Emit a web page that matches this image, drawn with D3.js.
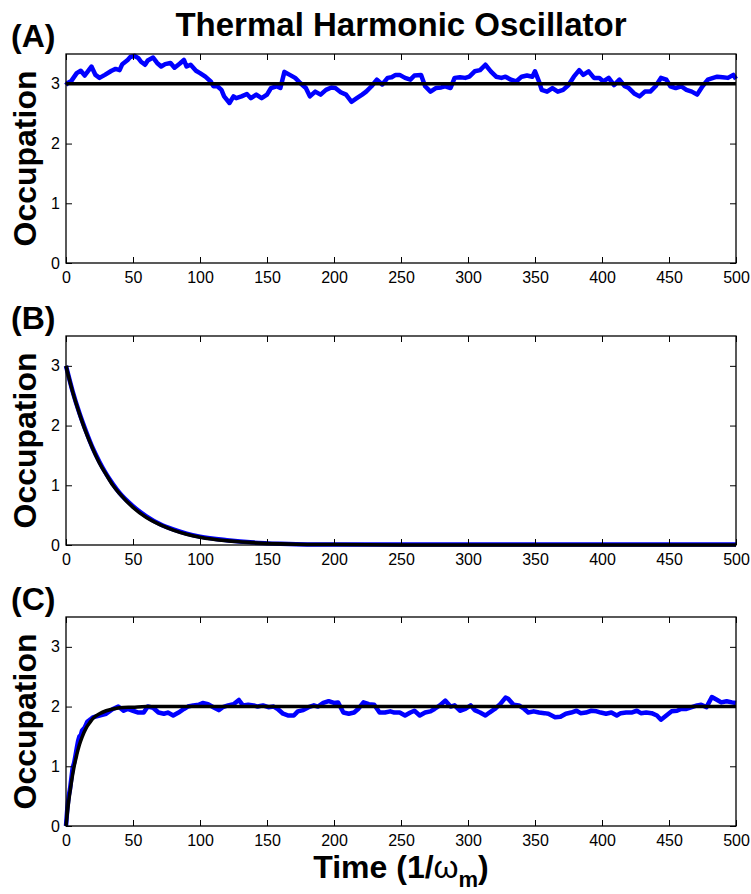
<!DOCTYPE html>
<html>
<head>
<meta charset="utf-8">
<script src="https://cdn.jsdelivr.net/npm/d3@7"></script>
<style>
  body { margin: 0; background: #fff; }
  text { font-family: "Liberation Sans", Arial, Helvetica, sans-serif; }
</style>
</head>
<body>
<div id="chart"></div>
<script>
// Data

// (A) thermal state, stays at n = 3
var timeA = [0, 1, 4, 8, 11, 14, 17, 19, 22, 25, 29, 34, 37, 40, 42, 46, 48, 51, 54, 56, 59, 61, 65, 68, 71, 74, 78, 81, 85, 88, 90, 93, 97, 100,
  104, 108, 110, 113, 116, 118, 122, 125, 127, 131, 135, 138, 142, 146, 150, 153, 157, 160, 163, 167, 171, 175, 179, 182, 186, 190, 194, 198,
  201, 205, 209, 213, 217, 221, 224, 228, 232, 236, 240, 243, 246, 249, 253, 257, 260, 265, 268, 272, 276, 280, 283, 287, 290, 294, 298, 301,
  305, 309, 313, 317, 321, 325, 328, 332, 336, 340, 344, 348, 350, 353, 355, 359, 363, 367, 371, 375, 379, 383, 386, 390, 394, 398, 401, 405,
  409, 413, 417, 420, 424, 428, 432, 436, 440, 444, 448, 451, 455, 459, 463, 467, 471, 475, 479, 483, 486, 490, 494, 498, 500];
var occupationA = [2.98, 3.01, 3.05, 3.18, 3.22, 3.14, 3.23, 3.29, 3.15, 3.10, 3.15, 3.22, 3.25, 3.23, 3.33, 3.40, 3.45, 3.47, 3.43, 3.37, 3.32, 3.39, 3.44, 3.35, 3.29, 3.33, 3.35, 3.27, 3.34, 3.40, 3.29, 3.32, 3.22, 3.18,
  3.12, 3.04, 2.96, 2.96, 2.90, 2.79, 2.68, 2.79, 2.76, 2.79, 2.83, 2.76, 2.82, 2.76, 2.82, 2.93, 2.96, 2.93, 3.20, 3.15, 3.10, 3.01, 2.93, 2.79, 2.87, 2.82, 2.90, 2.94,
  2.93, 2.86, 2.82, 2.70, 2.76, 2.82, 2.87, 2.96, 3.07, 2.99, 3.10, 3.11, 3.15, 3.15, 3.10, 3.07, 3.14, 3.15, 2.96, 2.87, 2.93, 2.94, 2.96, 2.93, 3.10, 3.11, 3.10, 3.12,
  3.21, 3.23, 3.32, 3.21, 3.12, 3.10, 3.12, 3.07, 3.04, 3.12, 3.14, 3.12, 3.21, 3.04, 2.90, 2.87, 2.93, 2.87, 2.90, 2.98, 3.12, 3.23, 3.15, 3.21, 3.10, 3.10, 3.04, 3.10,
  2.98, 3.07, 2.96, 2.93, 2.84, 2.79, 2.87, 2.87, 2.96, 3.10, 3.07, 2.96, 2.93, 2.96, 2.90, 2.87, 2.82, 2.96, 3.07, 3.10, 3.12, 3.11, 3.10, 3.15, 3.08];
var refTimeA = [0, 500];
var refA = [3, 3];

// (B) cooling towards the ground state
var timeB = [0, 5, 10, 15, 20, 25, 30, 35, 40, 50, 60, 70, 80, 90, 100, 120, 140, 160, 180, 200, 250, 300, 400, 500];
var occupationB = [3.0, 2.57, 2.21, 1.90, 1.62, 1.39, 1.19, 1.02, 0.87, 0.65, 0.48, 0.35, 0.26, 0.19, 0.14, 0.08, 0.04, 0.02, 0.01, 0.01, 0.01, 0.01, 0.01, 0.01];
var refB = [3.0, 2.56, 2.20, 1.88, 1.61, 1.37, 1.18, 1.00, 0.86, 0.63, 0.46, 0.34, 0.25, 0.18, 0.13, 0.07, 0.04, 0.02, 0.01, 0.01, 0, 0, 0, 0];

// (C) heating towards n = 2
var timeC = [0, 1, 2, 3, 4, 5, 6, 7, 8, 9, 10, 11, 12, 14, 16, 18, 20, 25, 30, 35, 39, 43, 46, 50, 54, 58, 61, 65, 69, 73, 76, 80, 84, 88, 91, 95, 99,
  102, 106, 110, 114, 117, 121, 125, 129, 132, 136, 140, 143, 147, 151, 155, 158, 162, 166, 170, 173, 177, 181, 185, 188, 192, 196, 200,
  203, 207, 211, 215, 218, 222, 226, 230, 234, 238, 242, 245, 249, 253, 257, 260, 264, 268, 272, 275, 279, 283, 287, 290, 294, 298,
  302, 305, 309, 313, 316, 320, 324, 328, 330, 334, 338, 342, 345, 349, 353, 357, 360, 365, 369, 373, 377, 381, 384, 388, 392, 396, 399,
  403, 407, 411, 414, 418, 422, 426, 429, 433, 437, 441, 444, 448, 452, 456, 459, 463, 467, 471, 474, 478, 482, 486, 489, 493, 497, 500];
var occupationC = [0, 0.30, 0.50, 0.62, 0.80, 0.98, 1.05, 1.17, 1.30, 1.42, 1.50, 1.52, 1.60, 1.65, 1.75, 1.78, 1.82, 1.85, 1.88, 1.96, 2.00, 1.93, 1.96, 1.93, 1.90, 1.90, 2.00, 1.98, 1.90, 1.88, 1.90, 1.85, 1.90, 1.96, 2.00, 2.02, 2.03,
  2.06, 2.04, 1.99, 1.94, 1.99, 2.02, 2.04, 2.11, 2.02, 2.03, 2.02, 2.00, 2.02, 1.99, 2.00, 1.96, 1.88, 1.85, 1.85, 1.92, 1.94, 1.99, 2.02, 2.00, 2.06, 2.09, 2.06,
  2.07, 1.90, 1.88, 1.90, 1.96, 2.07, 2.04, 2.03, 1.90, 1.90, 1.92, 1.90, 1.90, 1.85, 1.90, 1.93, 1.85, 1.90, 1.92, 1.96, 2.02, 2.10, 2.00, 2.02, 1.93, 1.96,
  2.02, 1.94, 1.90, 1.85, 1.90, 1.96, 2.04, 2.15, 2.13, 2.03, 2.02, 1.96, 1.90, 1.92, 1.90, 1.89, 1.88, 1.82, 1.83, 1.88, 1.90, 1.93, 1.89, 1.90, 1.93, 1.92, 1.90,
  1.88, 1.90, 1.85, 1.89, 1.90, 1.90, 1.93, 1.89, 1.90, 1.89, 1.85, 1.78, 1.85, 1.92, 1.93, 1.96, 1.96, 1.99, 2.02, 2.03, 1.99, 2.16, 2.11, 2.07, 2.09, 2.07, 2.06];
var refTimeC = [0, 2, 4, 6, 8, 10, 12, 15, 18, 21, 25, 30, 35, 40, 50, 60, 100, 200, 300, 400, 500];
var refC = [0, 0.41, 0.73, 0.99, 1.19, 1.36, 1.49, 1.64, 1.74, 1.82, 1.88, 1.93, 1.96, 1.98, 1.99, 2.0, 2.0, 2.0, 2.0, 2.0, 2.0];

var xTicks = [0, 50, 100, 150, 200, 250, 300, 350, 400, 450, 500];
var yTicks = [0, 1, 2, 3];
var panelLabels = ["(A)", "(B)", "(C)"];

// Set up the chart
var svgWidth = 751;
var svgHeight = 894;
var left = 66;
var width = 670;
var height = 209;
var panelTops = [54, 336, 617];

var svg = d3.select("#chart")
  .append("svg")
  .attr("width", svgWidth)
  .attr("height", svgHeight);

var xScale = d3.scaleLinear().domain([0, 500]).range([0, width]);
var yScale = d3.scaleLinear().domain([0, 3.5]).range([height, 0]);

// noisy trajectories keep their corners, the mean curves are smoothed
var noisyLine = d3.line()
  .x(d => xScale(d[0]))
  .y(d => yScale(d[1]));

var meanLine = d3.line()
  .x(d => xScale(d[0]))
  .y(d => yScale(d[1]))
  .curve(d3.curveMonotoneX);

function zipSeries(t, v) {
  return t.map((ti, i) => [ti, v[i]]);
}

var panels = [
  { blue: zipSeries(timeA, occupationA), ref: zipSeries(refTimeA, refA) },
  { blue: zipSeries(timeB, occupationB), ref: zipSeries(timeB, refB) },
  { blue: zipSeries(timeC, occupationC), ref: zipSeries(refTimeC, refC) }
];

panels.forEach(function(p, i) {
  var g = svg.append("g")
    .attr("transform", `translate(${left}, ${panelTops[i]})`);

  // series first, reference curve on top
  g.append("path")
    .attr("d", i === 1 ? meanLine(p.blue) : noisyLine(p.blue))
    .attr("fill", "none")
    .attr("stroke", "#0000ff")
    .attr("stroke-width", 4.5)
    .attr("stroke-linejoin", "round");

  g.append("path")
    .attr("d", meanLine(p.ref))
    .attr("fill", "none")
    .attr("stroke", "#000")
    .attr("stroke-width", 3.5);

  // axes with inward ticks, mirrored on top / right
  var bottom = g.append("g")
    .attr("transform", `translate(0, ${height})`)
    .call(d3.axisBottom(xScale).tickValues(xTicks).tickFormat(d3.format("d"))
      .tickSizeInner(-6).tickSizeOuter(0).tickPadding(9));
  var leftAx = g.append("g")
    .call(d3.axisLeft(yScale).tickValues(yTicks).tickFormat(d3.format("d"))
      .tickSizeInner(-6).tickSizeOuter(0).tickPadding(6));
  var top = g.append("g")
    .call(d3.axisTop(xScale).tickValues(xTicks).tickSizeInner(-6).tickSizeOuter(0).tickFormat(""));
  var right = g.append("g")
    .attr("transform", `translate(${width}, 0)`)
    .call(d3.axisRight(yScale).tickValues(yTicks).tickSizeInner(-6).tickSizeOuter(0).tickFormat(""));

  [bottom, leftAx, top, right].forEach(function(a) {
    a.select(".domain").remove();
    a.selectAll("line").attr("stroke", "#000").attr("stroke-width", 1);
    a.selectAll("text")
      .attr("fill", "#000")
      .style("font-size", "16px");
  });

  g.append("rect")
    .attr("width", width)
    .attr("height", height)
    .attr("fill", "none")
    .attr("stroke", "#000")
    .attr("stroke-width", 1.3);

  // panel tag
  svg.append("text")
    .attr("x", 11)
    .attr("y", panelTops[i] - 7)
    .style("font-size", "32px")
    .style("font-weight", "bold")
    .text(panelLabels[i]);

  // y label
  svg.append("text")
    .attr("transform", `translate(36, ${panelTops[i] + height / 2}) rotate(-90)`)
    .attr("text-anchor", "middle")
    .style("font-size", "32px")
    .style("font-weight", "bold")
    .text("Occupation");
});

// Title
svg.append("text")
  .attr("x", left + width / 2)
  .attr("y", 36)
  .attr("text-anchor", "middle")
  .style("font-size", "33px")
  .style("font-weight", "bold")
  .text("Thermal Harmonic Oscillator");

// x label
var xLabel = svg.append("text")
  .attr("x", left + width / 2)
  .attr("y", 878)
  .attr("text-anchor", "middle")
  .style("font-size", "32px")
  .style("font-weight", "bold");
xLabel.append("tspan").text("Time (1/");
xLabel.append("tspan").style("font-weight", "normal").text("\u03c9");
xLabel.append("tspan").attr("dy", 9).style("font-size", "22px").text("m");
xLabel.append("tspan").attr("dy", -9).text(")");
</script>
</body>
</html>
